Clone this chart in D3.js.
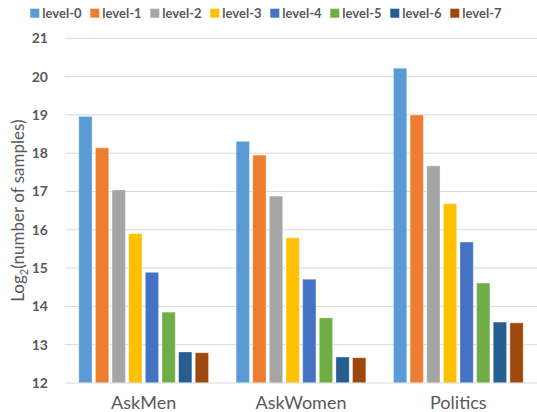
<!DOCTYPE html>
<html>
<head>
<meta charset="utf-8">
<script src="https://cdn.jsdelivr.net/npm/d3@7"></script>
<style>
  html, body { margin: 0; padding: 0; background: #fff; }
  svg { display: block; }
</style>
</head>
<body>
<svg id="chart" width="537" height="412"></svg>
<script>
// Sample counts per subreddit and level, on a log2 scale
const categories = ["AskMen", "AskWomen", "Politics"];
const levels = ["level-0", "level-1", "level-2", "level-3", "level-4", "level-5", "level-6", "level-7"];
const askMen   = [18.96, 18.14, 17.04, 15.90, 14.89, 13.85, 12.81, 12.79];
const askWomen = [18.31, 17.95, 16.88, 15.79, 14.71, 13.70, 12.68, 12.66];
const politics = [20.22, 19.00, 17.67, 16.68, 15.68, 14.61, 13.59, 13.57];
const yTicks = [12, 13, 14, 15, 16, 17, 18, 19, 20, 21];
const colors = ["#5B9BD5", "#ED7D31", "#A5A5A5", "#FFC000", "#4472C4", "#70AD47", "#255E91", "#9E480E"];

const seriesByCategory = { AskMen: askMen, AskWomen: askWomen, Politics: politics };

const svg = d3.select("#chart");
const margin = { left: 65, right: 537, top: 38.3, bottom: 383 };

const x = d3.scaleBand().domain(categories).range([margin.left, margin.right]).padding(0);
const xInner = d3.scaleBand().domain(levels).range([0, x.bandwidth()])
  .paddingInner(0.2).paddingOuter(0.83);
const y = d3.scaleLinear().domain([12, 21]).range([margin.bottom, margin.top]);

// Horizontal gridlines
svg.append("g")
  .selectAll("line")
  .data(yTicks.slice(1))
  .join("line")
  .attr("x1", margin.left).attr("x2", margin.right)
  .attr("y1", d => y(d)).attr("y2", d => y(d))
  .attr("stroke", "#D9D9D9").attr("stroke-width", 1);

// Y axis tick labels
const yAxis = d3.axisLeft(y).tickValues(yTicks).tickSize(0).tickPadding(0).tickFormat(d3.format("d"));
const gy = svg.append("g").attr("transform", `translate(48,0)`).call(yAxis);
gy.select(".domain").remove();
gy.selectAll("text")
  .attr("font-family", "Lato, sans-serif")
  .attr("font-size", 14)
  .attr("font-weight", "bold")
  .attr("fill", "#595959");

// Bars
const groups = svg.append("g")
  .selectAll("g")
  .data(categories)
  .join("g")
  .attr("transform", d => `translate(${x(d)},0)`);

groups.selectAll("rect")
  .data(c => levels.map((lv, i) => ({ level: lv, value: seriesByCategory[c][i], color: colors[i] })))
  .join("rect")
  .attr("x", d => xInner(d.level))
  .attr("width", xInner.bandwidth())
  .attr("y", d => y(d.value))
  .attr("height", d => y(12) - y(d.value))
  .attr("fill", d => d.color)
  .attr("stroke", "#ffffff")
  .attr("stroke-opacity", 0.35)
  .attr("stroke-width", 1);

// Baseline
svg.append("line")
  .attr("x1", margin.left).attr("x2", margin.right)
  .attr("y1", y(12)).attr("y2", y(12))
  .attr("stroke", "#D9D9D9").attr("stroke-width", 1.2);

// Category axis labels
const xAxis = d3.axisBottom(x).tickSize(0).tickPadding(0);
const gx = svg.append("g").attr("transform", `translate(0,${y(12)})`).call(xAxis);
gx.select(".domain").remove();
gx.selectAll("text")
  .attr("dy", null)
  .attr("y", 26)
  .attr("font-family", "Lato, sans-serif")
  .attr("font-size", 18)
  .attr("fill", "#595959");

// Y axis title
svg.append("text")
  .attr("transform", `translate(24,${(y(12) + y(21)) / 2}) rotate(-90)`)
  .attr("text-anchor", "middle")
  .attr("font-family", "Lato, sans-serif")
  .attr("font-size", 17)
  .attr("fill", "#595959")
  .call(t => {
    t.append("tspan").text("Log");
    t.append("tspan").attr("font-size", 11).attr("dy", 4).text("2");
    t.append("tspan").attr("dy", -4).text("(number of samples)");
  });

// Legend
const legend = svg.append("g")
  .selectAll("g")
  .data(levels)
  .join("g")
  .attr("transform", (d, i) => `translate(${30.3 + i * 60},0)`);
legend.append("rect")
  .attr("x", 0).attr("y", 8.7).attr("width", 9).attr("height", 9)
  .attr("fill", (d, i) => colors[i]);
legend.append("text")
  .attr("x", 12).attr("y", 17.5)
  .attr("font-family", "Lato, sans-serif")
  .attr("font-size", 13)
  .attr("font-weight", "bold")
  .attr("fill", "#595959")
  .text(d => d);
</script>
</body>
</html>
